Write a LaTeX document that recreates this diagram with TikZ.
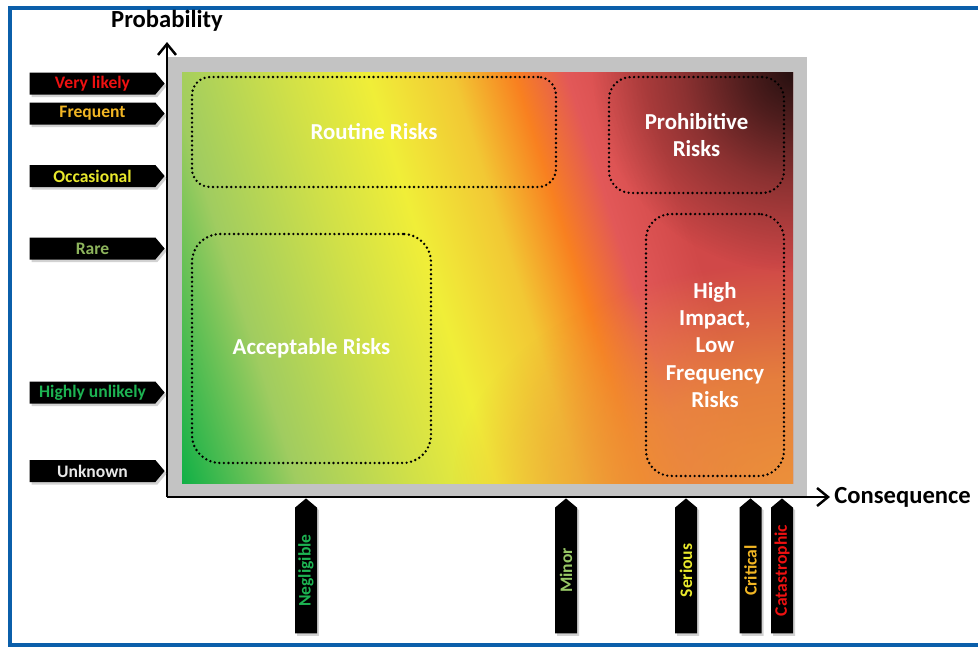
\documentclass[tikz,border=0pt]{standalone}
\usepackage{fontspec}
\setmainfont{Carlito}
\usetikzlibrary{arrows.meta, positioning, shapes.symbols, shadows, fadings}
\definecolor{cframe}{HTML}{0B5FAA}
\definecolor{cpanel}{HTML}{C3C3C3}
\definecolor{cgreen}{HTML}{10B046}
\definecolor{cmint}{HTML}{A0CC60}
\definecolor{clime}{HTML}{D0E048}
\definecolor{cyellow}{HTML}{F0EE38}
\definecolor{cgold}{HTML}{F2C834}
\definecolor{corange}{HTML}{F88020}
\definecolor{cpink}{HTML}{E25858}
\definecolor{cred}{HTML}{D04848}
\definecolor{cdark}{HTML}{261010}
\definecolor{cburnt}{HTML}{EC903A}
% label colours
\definecolor{tred}{HTML}{EE1111}
\definecolor{tgold}{HTML}{F2B624}
\definecolor{tyellow}{HTML}{E8E82C}
\definecolor{tsage}{HTML}{8DB45C}
\definecolor{tgreen}{HTML}{1DB352}
\definecolor{tlime}{HTML}{98C866}
\definecolor{tgrey}{HTML}{E8E8E8}
\pgfdeclarehorizontalshading{riskfield}{100bp}{color(0bp)=(cgreen); color(21.5bp)=(cgreen); color(30.4bp)=(cmint); color(39.2bp)=(clime);
  color(45.7bp)=(cyellow); color(52.2bp)=(cgold); color(57bp)=(corange); color(61bp)=(cpink); color(66.7bp)=(cred); color(100bp)=(cred)}
\pgfdeclareradialshading{softblob}{\pgfpoint{0bp}{0bp}}{color(0bp)=(white); color(6.25bp)=(black!25); color(13.75bp)=(black!60); color(25bp)=(black); color(50bp)=(black)}
\pgfdeclarefading{softfade}{\pgfuseshading{softblob}}
\pgfdeclareradialshading{wideblob}{\pgfpoint{0bp}{0bp}}{color(0bp)=(white); color(12bp)=(black!25); color(25bp)=(black); color(50bp)=(black)}
\pgfdeclarefading{widefade}{\pgfuseshading{wideblob}}
\tikzset{
  every picture/.style={line width=0.8pt},
  tag/.style={signal, signal to=east, signal pointer angle=100, fill=black, minimum width=2.7cm, minimum height=0.44cm, inner sep=1pt,
              font=\bfseries\fontsize{10}{12}\selectfont, drop shadow={opacity=0.35, shadow xshift=0.04cm, shadow yshift=-0.05cm}},
  zone/.style={draw=black, line width=1.5pt, dash pattern=on 0pt off 2.6pt, line cap=round, rounded corners=#1, text=white,
               align=center, inner sep=0pt, font=\bfseries\fontsize{13}{15.5}\selectfont},
  zone/.default=0.4cm,
  axis/.style={-{Straight Barb[length=2.2mm, width=3.6mm]}, line width=1.4pt},
  axislbl/.style={font=\bfseries\fontsize{14}{16}\selectfont, inner sep=1pt},
}
\begin{document}
\begin{tikzpicture}[x=0.02cm, y=-0.02cm]
  \useasboundingbox (0,0) rectangle (978,647);
  \fill[white] (0,0) rectangle (978,647);
  \draw[cframe, line width=0.08cm] (10,8) rectangle (1020,645);
  % panel and colour field
  \fill[cpanel] (167,57) rectangle (807,496);
  \begin{scope}
    \clip (182,72) rectangle (793,483);
    \shade[shading=riskfield, shading angle=17.5] (177.5,-32.5) rectangle (797.5,587.5);
    \fill[cburnt, path fading=widefade] (793,483) ellipse [x radius=6.8cm, y radius=4.4cm];
    \fill[cdark, path fading=softfade] (793,72) circle (4cm);
  \end{scope}
  % risk zones
  \node[zone=0.36cm, minimum width=7.28cm, minimum height=2.2cm] (routine) at (374,132) {Routine Risks};
  \node[zone=0.44cm, minimum width=3.5cm, minimum height=2.32cm] (prohib) at (696.5,135) {Prohibitive\\Risks};
  \node[zone=0.56cm, minimum width=4.78cm, minimum height=4.58cm] (accept) at (311.5,348.5) {Acceptable Risks};
  \node[zone=0.5cm, minimum width=2.76cm, minimum height=5.24cm] (highimp) at (715,345) {High\\Impact,\\Low\\Frequency\\Risks};
  % axes
  \coordinate (origin) at (167,497);
  \coordinate (ytip) at (167,42);
  \coordinate (xtip) at (830,497);
  \draw[axis] (origin) -- (ytip);
  \draw[axis] (origin) -- (xtip);
  \node[axislbl] (prob) at (167,20.5) {Probability};
  \node[axislbl, anchor=west] (cons) at (832,497) {Consequence};
  % probability scale
  \foreach \name/\y/\c/\t in {vlikely/83.5/tred/Very likely, frequent/113.5/tgold/Frequent, occas/176/tyellow/Occasional,
                              rare/248.5/tsage/Rare, hunlikely/392.5/tgreen/Highly unlikely, unknown/471/tgrey/Unknown}
    \node[tag, text=\c] (\name) at (92.5,\y) {\t};
  % consequence scale
  \foreach \name/\x/\c/\t in {negl/306/tgreen/Negligible, minor/566/tlime/Minor, serious/686/tyellow/Serious,
                              critical/750.5/tgold/Critical, catas/782/tred/Catastrophic}
    \node[tag, rotate=90, text=\c] (\name) at (\x,570.5) {\t};
\end{tikzpicture}
\end{document}
